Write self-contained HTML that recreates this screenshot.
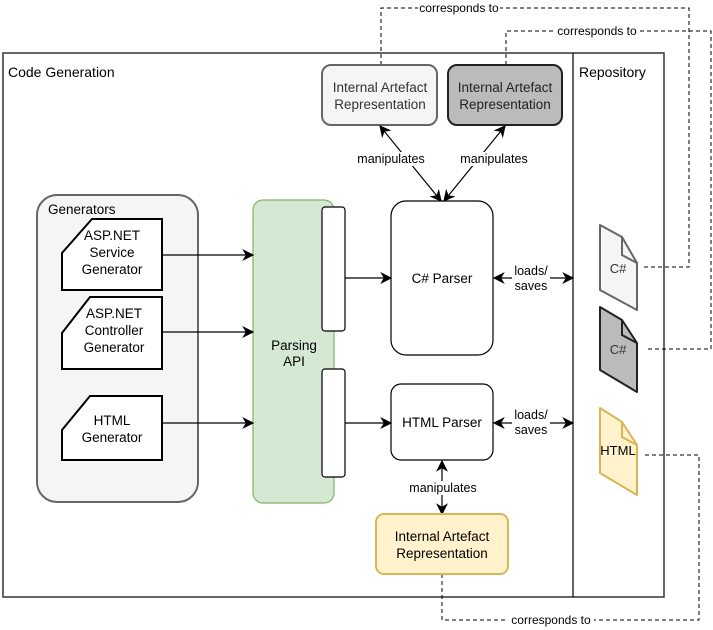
<!DOCTYPE html>
<html><head><meta charset="utf-8"><style>
html,body{margin:0;padding:0;background:#fff;}
svg{display:block;font-family:"Liberation Sans",Arial,sans-serif;}
</style></head><body>
<svg width="713" height="630" viewBox="0 0 713 630" xmlns="http://www.w3.org/2000/svg">
<defs>
<marker id="a" viewBox="0 0 10 10" refX="9" refY="5" markerWidth="12" markerHeight="12" orient="auto-start-reverse" markerUnits="userSpaceOnUse">
<path d="M0,0 L10,5 L0,10 L3,5 Z" fill="#000"/></marker>
</defs>
<rect width="713" height="630" fill="#fff"/>
<rect x="3" y="53" width="661" height="544" fill="#fff" stroke="#333" stroke-width="1.5"/>
<line x1="573" y1="53" x2="573" y2="597" stroke="#000" stroke-width="1.2"/>
<text x="8" y="77" font-size="14">Code Generation</text>
<text x="579" y="77" font-size="14">Repository</text>

<g fill="none" stroke="#000" stroke-dasharray="4,3" stroke-width="1">
<path d="M381,65 V8 H689 V267 H642"/>
<path d="M506,65 V31 H711 V349 H645"/>
<path d="M442,574 V620 H699 V455 H643"/>
</g>
<g font-size="12" text-anchor="middle">
<rect x="418" y="1" width="82" height="14" fill="#fff"/>
<text x="459" y="12">corresponds to</text>
<rect x="554" y="24" width="86" height="14" fill="#fff"/>
<text x="597" y="35">corresponds to</text>
<rect x="508" y="613" width="86" height="14" fill="#fff"/>
<text x="551" y="624">corresponds to</text>
</g>

<rect x="322" y="65" width="115" height="60" rx="9" fill="#f5f5f5" stroke="#666" stroke-width="2"/>
<text x="380" y="92" font-size="13.5" text-anchor="middle" fill="#333">Internal Artefact</text>
<text x="380" y="109" font-size="13.5" text-anchor="middle" fill="#333">Representation</text>
<rect x="448" y="65" width="114" height="60" rx="9" fill="#bbbbbb" stroke="#222" stroke-width="2"/>
<text x="505" y="92" font-size="13.5" text-anchor="middle" fill="#222">Internal Artefact</text>
<text x="505" y="109" font-size="13.5" text-anchor="middle" fill="#222">Representation</text>

<rect x="37" y="195" width="161" height="307" rx="20" fill="#f5f5f5" stroke="#666" stroke-width="2"/>
<text x="48" y="214" font-size="13.5">Generators</text>
<g fill="#fff" stroke="#000" stroke-width="2">
<path d="M62,253 L92,219 H162 V290 H62 Z"/>
<path d="M62,333 L90,297 H162 V369 H62 Z"/>
<path d="M62,430 L90,396 H162 V460 H62 Z"/>
</g>
<g font-size="13.5" text-anchor="middle">
<text x="112" y="240">ASP.NET</text>
<text x="112" y="257">Service</text>
<text x="112" y="274">Generator</text>
<text x="114" y="318">ASP.NET</text>
<text x="114" y="335">Controller</text>
<text x="114" y="352">Generator</text>
<text x="112" y="425">HTML</text>
<text x="112" y="442">Generator</text>
</g>

<rect x="253" y="200" width="81" height="303" rx="10" fill="#d5e8d4" stroke="#82b366" stroke-width="1.2"/>
<text x="294" y="350" font-size="13.5" text-anchor="middle">Parsing</text>
<text x="294" y="366" font-size="13.5" text-anchor="middle">API</text>
<rect x="322" y="207" width="23" height="124" rx="3" fill="#fff" stroke="#000" stroke-width="1.2"/>
<rect x="322" y="369" width="23" height="108" rx="3" fill="#fff" stroke="#000" stroke-width="1.2"/>

<rect x="391" y="201" width="102" height="154" rx="15" fill="#fff" stroke="#000" stroke-width="1.2"/>
<text x="442" y="283" font-size="13.5" text-anchor="middle">C# Parser</text>
<rect x="391" y="384" width="102" height="76" rx="10" fill="#fff" stroke="#000" stroke-width="1.2"/>
<text x="442" y="427" font-size="13.5" text-anchor="middle">HTML Parser</text>

<g stroke="#000" stroke-width="1.2" fill="none">
<line x1="162" y1="255" x2="253" y2="255" marker-end="url(#a)"/>
<line x1="162" y1="332" x2="253" y2="332" marker-end="url(#a)"/>
<line x1="162" y1="423" x2="253" y2="423" marker-end="url(#a)"/>
<line x1="345" y1="278" x2="391" y2="278" marker-end="url(#a)"/>
<line x1="345" y1="423" x2="391" y2="423" marker-end="url(#a)"/>
<line x1="494" y1="278" x2="573" y2="278" marker-start="url(#a)" marker-end="url(#a)"/>
<line x1="494" y1="423" x2="573" y2="423" marker-start="url(#a)" marker-end="url(#a)"/>
<line x1="380" y1="126" x2="441" y2="201" marker-start="url(#a)" marker-end="url(#a)"/>
<line x1="505" y1="126" x2="444" y2="201" marker-start="url(#a)" marker-end="url(#a)"/>
<line x1="442" y1="461" x2="442" y2="514" marker-start="url(#a)" marker-end="url(#a)"/>
</g>
<g font-size="12.5" text-anchor="middle">
<rect x="512" y="264" width="38" height="30" fill="#fff"/>
<text x="531" y="275">loads/</text><text x="531" y="290">saves</text>
<rect x="512" y="408" width="38" height="30" fill="#fff"/>
<text x="531" y="419">loads/</text><text x="531" y="434">saves</text>
<rect x="356" y="152" width="70" height="14" fill="#fff"/>
<text x="391" y="163">manipulates</text>
<rect x="459" y="152" width="70" height="14" fill="#fff"/>
<text x="494" y="163">manipulates</text>
<rect x="408" y="481" width="70" height="14" fill="#fff"/>
<text x="443" y="492">manipulates</text>
</g>

<rect x="376" y="514" width="132" height="60" rx="8" fill="#fff2cc" stroke="#d6b656" stroke-width="2"/>
<text x="442" y="541" font-size="13.5" text-anchor="middle">Internal Artefact</text>
<text x="442" y="558" font-size="13.5" text-anchor="middle">Representation</text>

<path d="M600,225 L622,237 L637,263 V310 L600,290 Z" fill="#f5f5f5" stroke="#666" stroke-width="2" stroke-linejoin="round"/>
<path d="M622,237 V255 L637,263" fill="none" stroke="#666" stroke-width="2"/>
<text x="618" y="273" font-size="13" text-anchor="middle" fill="#333">C#</text>
<path d="M600,307 L622,320 L637,343 V392 L600,370 Z" fill="#bbbbbb" stroke="#222" stroke-width="2" stroke-linejoin="round"/>
<path d="M622,320 V335 L637,343" fill="none" stroke="#222" stroke-width="2"/>
<text x="618" y="354" font-size="13" text-anchor="middle" fill="#333">C#</text>
<path d="M600,408 L622,422 L637,445 V495 L600,473 Z" fill="#fff2cc" stroke="#d6b656" stroke-width="2" stroke-linejoin="round"/>
<path d="M622,422 V437 L637,445" fill="none" stroke="#d6b656" stroke-width="2"/>
<text x="618" y="455" font-size="13" text-anchor="middle">HTML</text>
</svg>
</body></html>
